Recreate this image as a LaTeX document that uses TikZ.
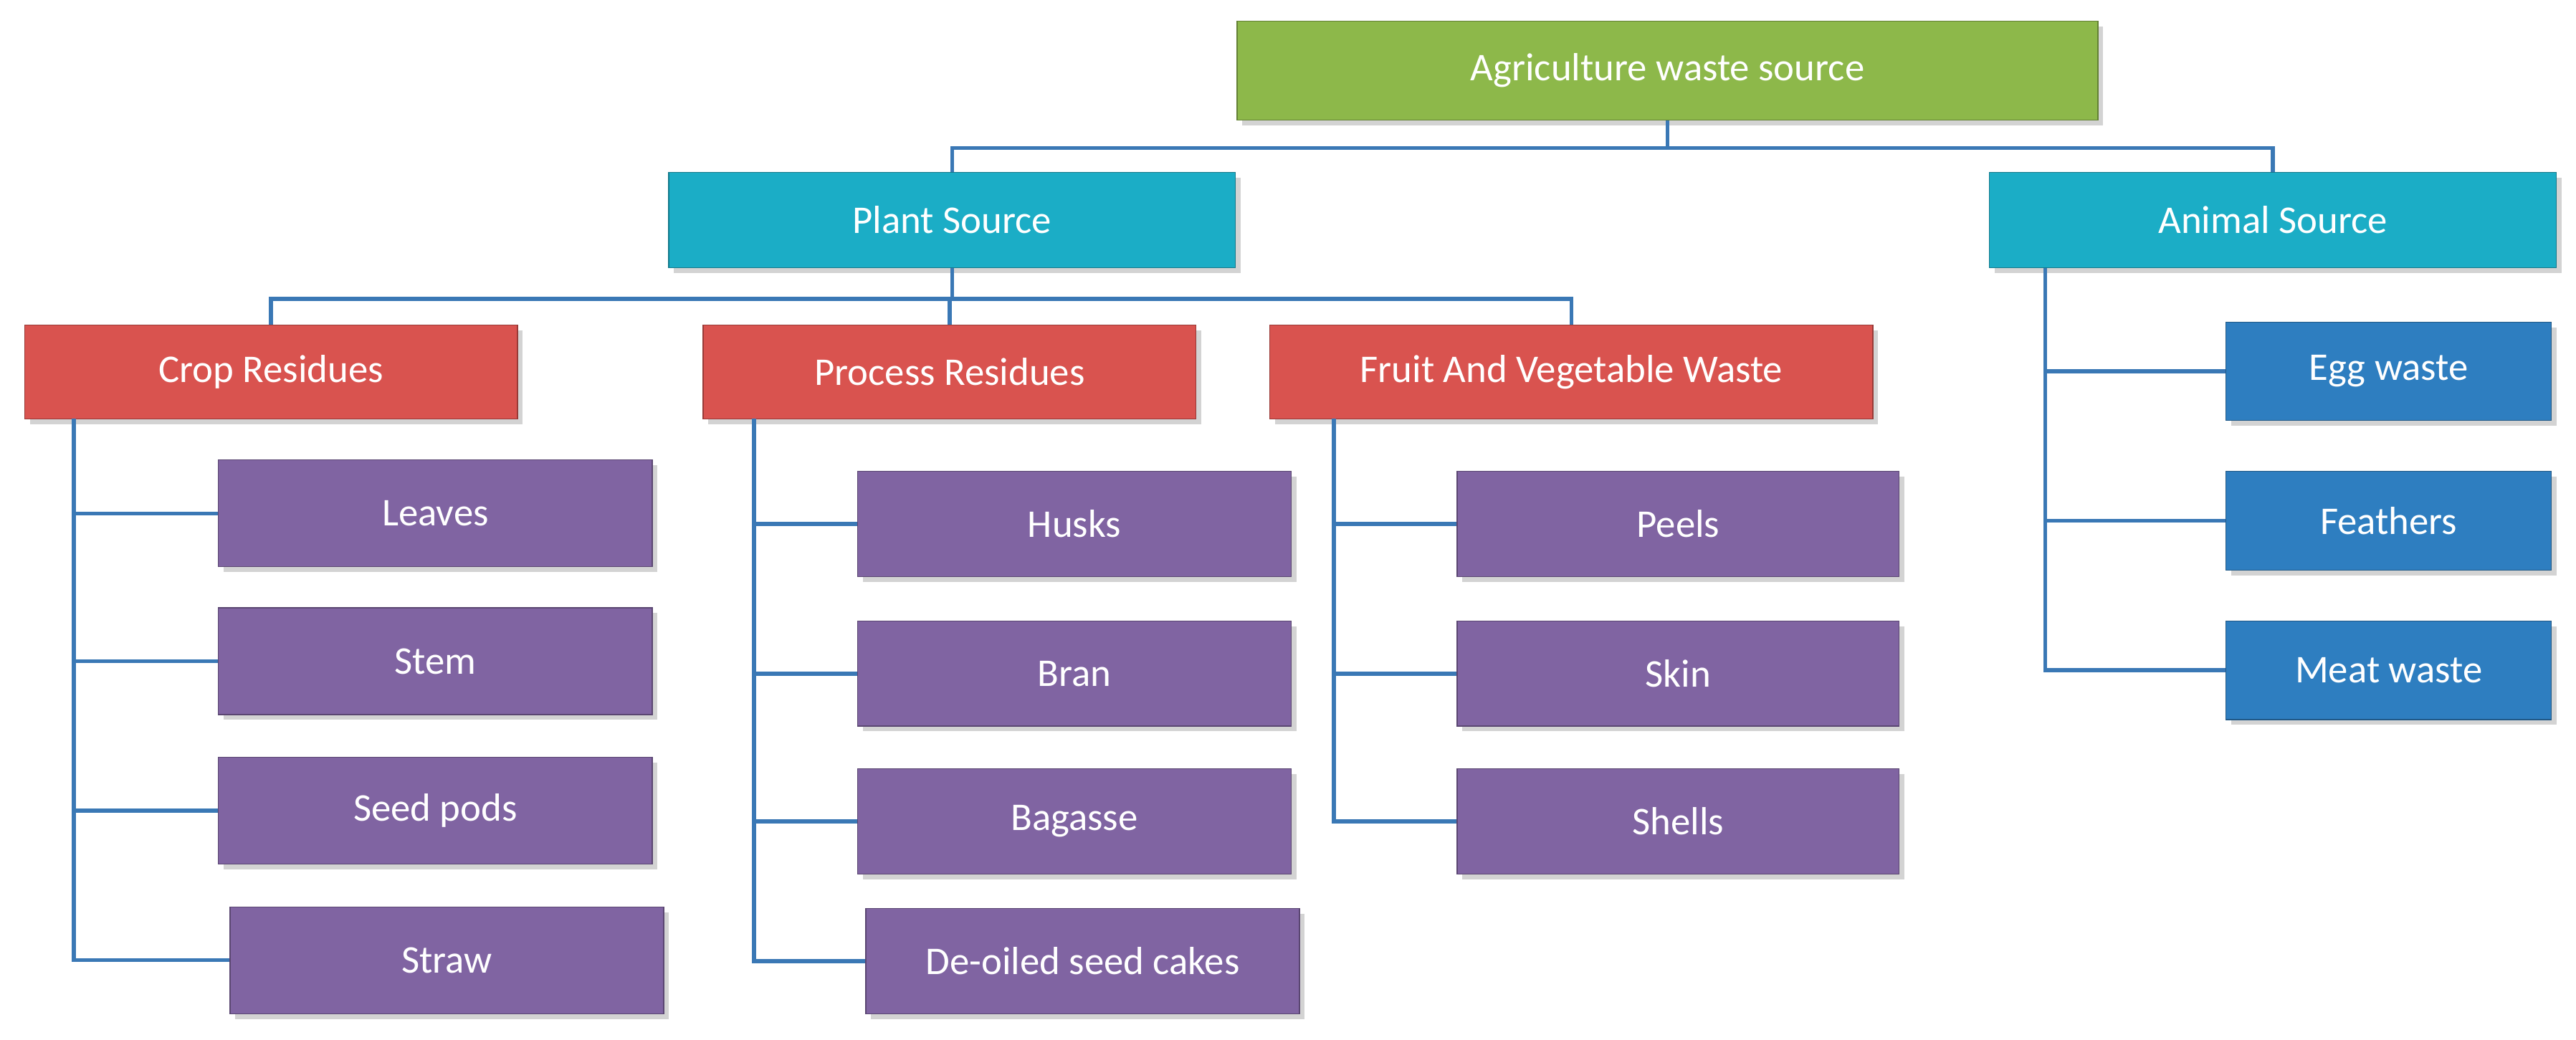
\documentclass[tikz,border=0pt]{standalone}
\usepackage{fontspec}
\setmainfont{Carlito}
\usetikzlibrary{shadows}
\definecolor{cgreen}{HTML}{8DB84A}
\definecolor{ccyan}{HTML}{1BADC6}
\definecolor{cred}{HTML}{D9534F}
\definecolor{cpurple}{HTML}{8064A2}
\definecolor{cblue}{HTML}{2E7EC0}
\definecolor{cline}{HTML}{3A78B5}
\tikzset{
  box/.style={draw=#1!70!black, line width=0.4pt, fill=#1, text=white, inner sep=0pt,
    font=\fontsize{17}{20}\selectfont, drop shadow={opacity=0.35, shadow xshift=0.8mm, shadow yshift=-0.8mm}},
  conn/.style={draw=cline, line width=0.6mm}
}
\newcommand{\bx}[7]{\node[box=#6, minimum width={(#4-#2)*0.25mm}, minimum height={(#5-#3)*0.25mm}] (#1) at ({(#2+#4)/2},{-(#3+#5)/2}) {#7};}
\begin{document}
\begin{tikzpicture}[x=0.25mm,y=0.25mm]
\useasboundingbox (0,0) rectangle (1568,-633);
\bx{agri}{753}{13}{1277}{73}{cgreen}{Agriculture waste source}
\bx{plant}{407}{105}{752}{163}{ccyan}{Plant Source}
\bx{animal}{1211}{105}{1556}{163}{ccyan}{Animal Source}
\bx{crop}{15}{198}{315}{255}{cred}{Crop Residues}
\bx{proc}{428}{198}{728}{255}{cred}{Process Residues}
\bx{fruit}{773}{198}{1140}{255}{cred}{Fruit And Vegetable Waste}
\bx{leaves}{133}{280}{397}{345}{cpurple}{Leaves}
\bx{stem}{133}{370}{397}{435}{cpurple}{Stem}
\bx{seed}{133}{461}{397}{526}{cpurple}{Seed pods}
\bx{straw}{140}{552}{404}{617}{cpurple}{Straw}
\bx{husks}{522}{287}{786}{351}{cpurple}{Husks}
\bx{bran}{522}{378}{786}{442}{cpurple}{Bran}
\bx{bagasse}{522}{468}{786}{532}{cpurple}{Bagasse}
\bx{deoil}{527}{553}{791}{617}{cpurple}{De-oiled seed cakes}
\bx{peels}{887}{287}{1156}{351}{cpurple}{Peels}
\bx{skin}{887}{378}{1156}{442}{cpurple}{Skin}
\bx{shells}{887}{468}{1156}{532}{cpurple}{Shells}
\bx{egg}{1355}{196}{1553}{256}{cblue}{Egg waste}
\bx{feath}{1355}{287}{1553}{347}{cblue}{Feathers}
\bx{meat}{1355}{378}{1553}{438}{cblue}{Meat waste}
\coordinate (j1) at (1015,-90);
\coordinate (j2) at (580,-182);
\draw[conn] (agri.south) -- (agri.south |- j1);
\draw[conn] (plant.north) -- (plant.north |- j1) -- (animal.north |- j1) -- (animal.north);
\draw[conn] (plant.south) -- (plant.south |- j2);
\draw[conn] (crop.north) -- (crop.north |- j2) -- (fruit.north |- j2) -- (fruit.north);
\draw[conn] (proc.north) -- (proc.north |- j2);
\coordinate (cb) at (45,-255);
\draw[conn] (cb) |- (straw.west);
\foreach \n in {leaves,stem,seed}{\draw[conn] (cb |- \n.west) -- (\n.west);}
\coordinate (pb) at (459,-255);
\draw[conn] (pb) |- (deoil.west);
\foreach \n in {husks,bran,bagasse}{\draw[conn] (pb |- \n.west) -- (\n.west);}
\coordinate (fb) at (812,-255);
\draw[conn] (fb) |- (shells.west);
\foreach \n in {peels,skin}{\draw[conn] (fb |- \n.west) -- (\n.west);}
\coordinate (ab) at (1245,-163);
\draw[conn] (ab) |- (meat.west);
\foreach \n in {egg,feath}{\draw[conn] (ab |- \n.west) -- (\n.west);}
\end{tikzpicture}
\end{document}
